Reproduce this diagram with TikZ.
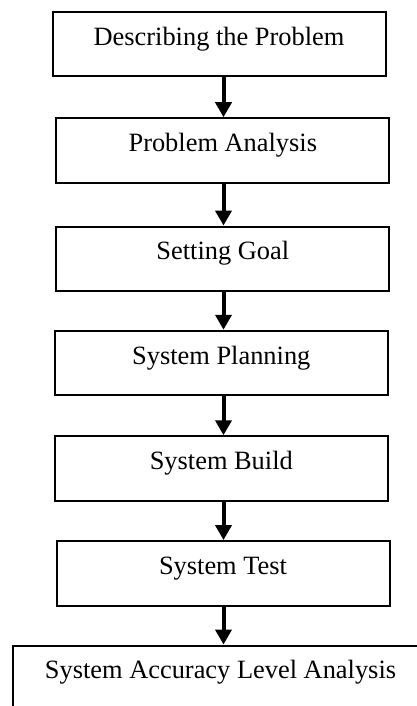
\documentclass[tikz,border=0pt]{standalone}
\usepackage{fontspec}
\setmainfont{Liberation Serif}
\usetikzlibrary{arrows.meta}
\begin{document}
\begin{tikzpicture}[x=1pt,y=-1pt,
  stepbox/.style={draw=black, line width=2pt, rectangle, minimum width=333pt, minimum height=64.5pt,
    inner sep=0pt, font=\fontsize{26.4}{30}\selectfont, text height=0.62em, text depth=0.42em},
  arr/.style={line width=4pt, -{Triangle[length=15pt,width=16pt]}}]
\useasboundingbox (0,0) rectangle (417,706);
\clip (0,0) rectangle (417,706);
\coordinate (ax) at (223.5,0);
\node[stepbox] (b1) at (219,44.2) {Describing the Problem};
\node[stepbox] (b2) at (222.8,150.5) {Problem Analysis};
\node[stepbox] (b3) at (222.8,258.8) {Setting Goal};
\node[stepbox] (b4) at (221.3,363) {System Planning};
\node[stepbox] (b5) at (221.3,468.5) {System Build};
\node[stepbox] (b6) at (223,573.3) {System Test};
\node[stepbox, minimum width=414.4pt] (b7) at (220.5,677.8) {System Accuracy Level Analysis};
\draw[arr] (b1.south -| ax) -- (b2.north -| ax);
\draw[arr] (b2.south -| ax) -- (b3.north -| ax);
\draw[arr] (b3.south -| ax) -- (b4.north -| ax);
\draw[arr] (b4.south -| ax) -- (b5.north -| ax);
\draw[arr] (b5.south -| ax) -- (b6.north -| ax);
\draw[arr] (b6.south -| ax) -- (b7.north -| ax);
\end{tikzpicture}
\end{document}
